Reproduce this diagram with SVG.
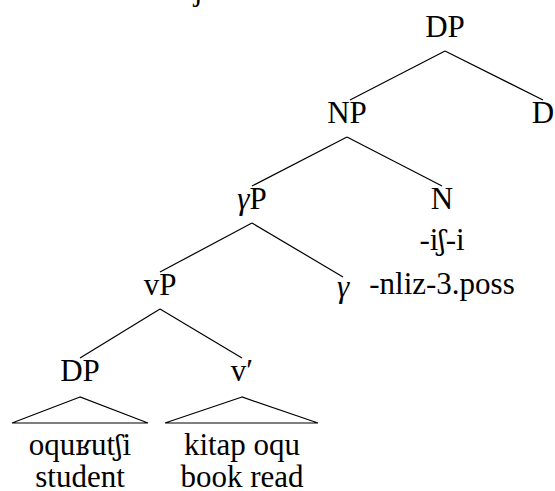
<svg xmlns="http://www.w3.org/2000/svg" width="555" height="491" viewBox="0 0 555 491">
<style>
line,polygon{stroke:#000;stroke-width:1.2;fill:none}
</style>
<rect width="555" height="491" fill="#fff"/>
<g font-size="31" text-anchor="middle">
<text x="198" y="0" font-family="'Liberation Serif', serif">j</text>
<g id="connectors">
<line x1="445" y1="51" x2="350" y2="100"/>
<line x1="445" y1="51" x2="543" y2="100"/>
<line x1="347" y1="137" x2="252" y2="186"/>
<line x1="347" y1="137" x2="442" y2="186"/>
<line x1="252" y1="223" x2="160" y2="272"/>
<line x1="252" y1="223" x2="343" y2="277"/>
<line x1="160" y1="309" x2="80" y2="358"/>
<line x1="160" y1="309" x2="242" y2="358"/>
</g>
<g id="dp-root"><text x="445" y="37" font-family="'Liberation Serif', serif">DP</text></g>
<g id="np"><text x="347" y="123" font-family="'Liberation Serif', serif">NP</text></g>
<g id="d"><text x="543" y="123" font-family="'Liberation Serif', serif">D</text></g>
<g id="gammap"><text x="252" y="209" font-family="'Liberation Serif', serif"><tspan font-style="italic">γ</tspan>P</text></g>
<g id="n"><text x="442" y="209" font-family="'Liberation Serif', serif">N</text><text x="442" y="250" font-family="'Liberation Serif', serif">-i<tspan font-family="'DejaVu Serif', serif" font-size="27">ʃ</tspan>-i</text><text x="442" y="294" font-family="'Liberation Serif', serif">-nliz-3.poss</text></g>
<g id="vp"><text x="160" y="295" font-family="'Liberation Serif', serif">vP</text></g>
<g id="gamma"><text x="343" y="297" font-style="italic" font-family="'Liberation Serif', serif">γ</text></g>
<g id="dp-spec"><text x="80" y="381" font-family="'Liberation Serif', serif">DP</text><polygon points="80,397 12,423 148,423"/><text x="80" y="455" font-family="'Liberation Serif', serif">oqu<tspan font-family="'DejaVu Serif', serif" font-size="27">ʁ</tspan>ut<tspan font-family="'DejaVu Serif', serif" font-size="27">ʃ</tspan>i</text><text x="80" y="487" font-family="'Liberation Serif', serif">student</text></g>
<g id="vbar"><text x="242" y="381" font-family="'Liberation Serif', serif">v′</text><polygon points="242,397 165,423 318,423"/><text x="242" y="455" font-family="'Liberation Serif', serif">kitap oqu</text><text x="242" y="487" font-family="'Liberation Serif', serif">book read</text></g>
</g>
</svg>
